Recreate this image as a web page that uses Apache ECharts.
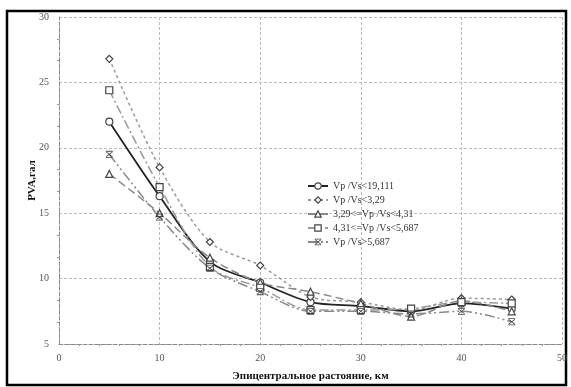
<!DOCTYPE html>
<html>
<head>
<meta charset="utf-8">
<script src="https://cdn.jsdelivr.net/npm/echarts@6/dist/echarts.min.js"></script>
<style>
  html, body { margin: 0; padding: 0; background: #fff; }
  #main { width: 571px; height: 387px; }
</style>
</head>
<body>
<div id="main"></div>
<script>
// данные
var distances = [5, 10, 15, 20, 25, 30, 35, 40, 45]
var names = ['Vp /Vs<19,111', 'Vp /Vs<3,29', '3,29<=Vp /Vs<4,31', '4,31<=Vp /Vs<5,687', 'Vp /Vs>5,687']
var pvaAll = [22.0, 16.3, 11.3, 9.7, 8.2, 7.9, 7.5, 8.1, 7.7]
var pvaLow = [26.8, 18.5, 12.8, 11.0, 8.6, 8.2, 7.6, 8.5, 8.4]
var pvaMid1 = [18.0, 15.0, 11.6, 9.7, 9.0, 8.1, 7.1, 8.3, 7.5]
var pvaMid2 = [24.4, 17.0, 10.9, 9.3, 7.6, 7.6, 7.7, 8.2, 8.1]
var pvaHigh = [19.5, 14.7, 10.8, 9.0, 7.5, 7.5, 7.3, 7.5, 6.7]
var yTicks = [5, 10, 15, 20, 25, 30]
var xTicks = [0, 10, 20, 30, 40, 50]

var font = 'Liberation Serif'
var crossSymbol = 'path://M0,0H10V1.2H0Z M0,8.8H10V10H0Z M1,1.2L5,4.2L9,1.2L9.8,2L5.9,5L9.8,8L9,8.8L5,5.8L1,8.8L0.2,8L4.1,5L0.2,2Z'

function pairs(values) {
    return distances.map(function(d, i) { return [d, values[i]] })
}

function markerStyle(symbol) {
    if (symbol === crossSymbol) {
        return { color: '#444', borderWidth: 0 }
    }
    return { color: '#fff', borderColor: '#444', borderWidth: 1.2 }
}

function makeSeries(name, values, symbol, lineColor, width, dash) {
    return {
        name: name,
        type: 'line',
        data: pairs(values),
        smooth: 0.3,
        symbol: symbol,
        symbolSize: 7,
        lineStyle: { color: lineColor, width: width, type: dash },
        itemStyle: markerStyle(symbol),
        z: 3
    }
}

var symbols = ['circle', 'diamond', 'triangle', 'rect', crossSymbol]

var myChart = echarts.init(document.querySelector('#main'))

var option = {
    backgroundColor: '#fff',
    animation: false,
    graphic: [{
        type: 'rect',
        shape: { x: 7, y: 11, width: 559, height: 374 },
        style: { fill: 'none', stroke: '#000', lineWidth: 2.5 },
        silent: true
    }],
    grid: { left: 59, right: 9, top: 17, bottom: 42 },
    legend: {
        orient: 'vertical',
        left: 302,
        top: 176,
        itemGap: 4,
        itemWidth: 20,
        itemHeight: 8,
        data: names.map(function(n, i) {
            return { name: n, itemStyle: markerStyle(symbols[i]) }
        }),
        textStyle: { fontFamily: font, fontSize: 10, color: '#333' }
    },
    xAxis: {
        type: 'value',
        min: xTicks[0],
        max: xTicks[xTicks.length - 1],
        interval: 10,
        name: 'Эпицентральное растояние, км',
        nameLocation: 'middle',
        nameGap: 27,
        nameMoveOverlap: false,
        nameTextStyle: { fontFamily: font, fontSize: 11, fontWeight: 'bold', color: '#111' },
        axisLine: { lineStyle: { color: '#888', type: 'dashed' } },
        axisTick: { show: false },
        minorTick: { show: true, splitNumber: 5, length: 2, lineStyle: { color: '#999' } },
        axisLabel: { fontFamily: font, fontSize: 10, color: '#555', margin: 9 },
        splitLine: { lineStyle: { color: '#bbb', type: [3, 2], width: 1 } }
    },
    yAxis: {
        type: 'value',
        min: yTicks[0],
        max: yTicks[yTicks.length - 1],
        interval: 5,
        name: 'PVA,гал',
        nameLocation: 'middle',
        nameGap: 21,
        nameMoveOverlap: false,
        nameTextStyle: { fontFamily: font, fontSize: 11, fontWeight: 'bold', color: '#111' },
        axisLine: { show: true, lineStyle: { color: '#888', type: 'dashed' } },
        axisTick: { show: false },
        minorTick: { show: true, splitNumber: 3, length: 2, lineStyle: { color: '#999' } },
        axisLabel: { fontFamily: font, fontSize: 10, color: '#555', margin: 10 },
        splitLine: { lineStyle: { color: '#bbb', type: [3, 2], width: 1 } }
    },
    series: [
        makeSeries(names[0], pvaAll, symbols[0], '#222', 1.8, 'solid'),
        makeSeries(names[1], pvaLow, symbols[1], '#999', 1.5, [3, 3]),
        makeSeries(names[2], pvaMid1, symbols[2], '#888', 1.5, [8, 4]),
        makeSeries(names[3], pvaMid2, symbols[3], '#999', 1.5, [9, 3, 2, 3]),
        makeSeries(names[4], pvaHigh, symbols[4], '#888', 1.5, [10, 3, 2, 3, 2, 3])
    ]
}

myChart.setOption(option)
</script>
</body>
</html>
